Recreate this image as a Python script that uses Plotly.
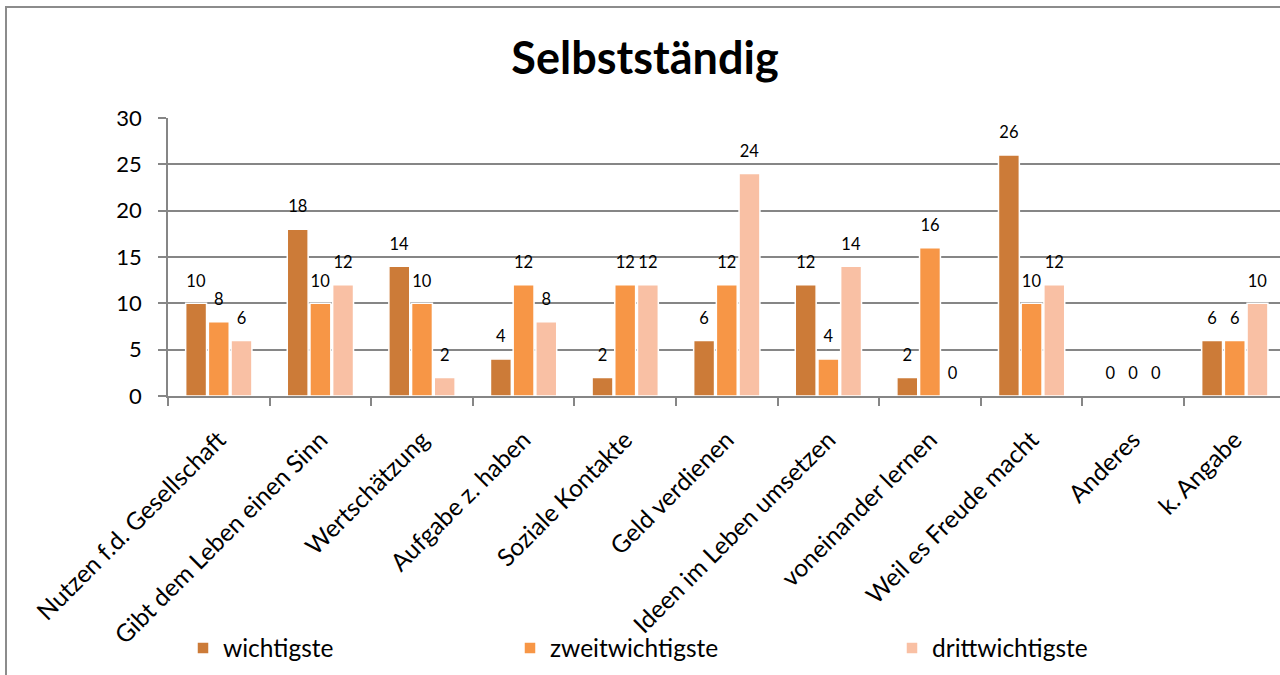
import plotly.graph_objects as go

categories = ["Nutzen f.d. Gesellschaft", "Gibt dem Leben einen Sinn", "Wertschätzung",
              "Aufgabe z. haben", "Soziale Kontakte", "Geld verdienen",
              "Ideen im Leben umsetzen", "voneinander lernen", "Weil es Freude macht",
              "Anderes", "k. Angabe"]
series_names = ["wichtigste", "zweitwichtigste", "drittwichtigste"]
wichtigste = [10, 18, 14, 4, 2, 6, 12, 2, 26, 0, 6]
zweitwichtigste = [8, 10, 10, 12, 12, 12, 4, 16, 10, 0, 6]
drittwichtigste = [6, 12, 2, 8, 12, 24, 14, 0, 12, 0, 10]
y_ticks = [0, 5, 10, 15, 20, 25, 30]

colors = ["#CC7B38", "#F79646", "#F9C0A4"]
values = [wichtigste, zweitwichtigste, drittwichtigste]
legend_ids = ["legend", "legend2", "legend3"]
legend_marker_left = [199, 526, 908]

FONT = "Lato"
W, H = 1280, 675
L, R, T, B = 168, 0, 118, 279
plot_w = W - L - R
plot_h = H - T - B
cat_px = 101.6
x_end = -0.5 + plot_w / cat_px

fig = go.Figure()
for name, vals, col, lg in zip(series_names, values, colors, legend_ids):
    fig.add_trace(go.Bar(
        x=categories, y=vals, name=name, legend=lg,
        marker=dict(color=col, line=dict(color="white", width=1.5)),
        text=[f"<span style='font-size:16.5px'>{v}</span><br> " for v in vals],
        textposition="outside",
        textfont=dict(family=FONT, size=9, color="black"),
        cliponaxis=False,
    ))

legend_common = dict(orientation="h", yanchor="middle", xanchor="left",
                     font=dict(family=FONT, size=24.5, color="black"),
                     bgcolor="rgba(0,0,0,0)", xref="container", yref="container",
                     itemwidth=30)
layout_legends = {}
for lg, mx in zip(legend_ids, legend_marker_left):
    layout_legends[lg] = dict(legend_common, x=(mx - 16) / W, y=1 - 648 / H)

fig.update_layout(
    width=W, height=H,
    margin=dict(l=L, r=R, t=T, b=B, autoexpand=False),
    paper_bgcolor="white", plot_bgcolor="white",
    title=dict(text="<b>Selbstständig</b>", x=645 / W, xanchor="center",
               y=1 - 58 / H, yanchor="middle",
               font=dict(family=FONT, size=45, color="black")),
    barmode="group", bargap=0.33, bargroupgap=0.08,
    showlegend=True,
    xaxis=dict(range=[-0.5, x_end], tickangle=-45, tickson="boundaries",
               ticks="outside", ticklen=8, tickcolor="#868686", tickwidth=1.5,
               showline=True, linecolor="#868686", linewidth=1.5,
               showgrid=False, ticklabelstandoff=18, automargin=False,
               tickfont=dict(family=FONT, size=24.5, color="black")),
    yaxis=dict(range=[0, 30], tickvals=y_ticks, ticks="outside", ticklen=8,
               tickcolor="#868686", tickwidth=1.5, automargin=False,
               showline=True, linecolor="#868686", linewidth=1.5,
               showgrid=True, gridcolor="#868686", gridwidth=1.5,
               zeroline=False, ticklabelstandoff=12,
               tickfont=dict(family=FONT, size=22, color="black")),
    shapes=[dict(type="rect", xref="paper", yref="paper",
                 x0=(6 - L) / plot_w, x1=1.2,
                 y0=-1.5, y1=1 + (T - 7) / plot_h,
                 line=dict(color="#8C8C8C", width=2), fillcolor="rgba(0,0,0,0)",
                 layer="below")],
    **layout_legends,
)

fig.write_html("out.html", config={"displayModeBar": False},
               post_script="document.body.style.margin='0';")
